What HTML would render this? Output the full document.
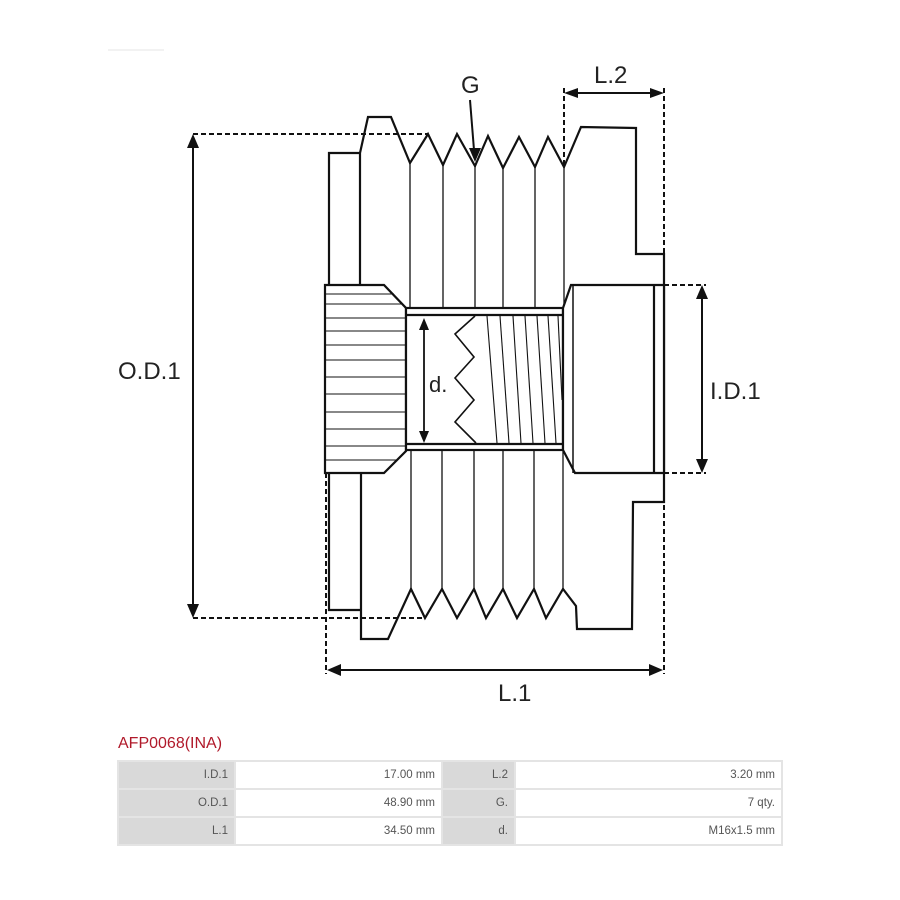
<!DOCTYPE html>
<html><head><meta charset="utf-8"><style>
html,body{margin:0;padding:0;background:#fff;width:900px;height:900px;overflow:hidden}
svg{position:absolute;left:0;top:0}
.t{position:absolute;left:118px;top:735px;font-family:"Liberation Sans",sans-serif;font-size:16px;color:#b0192a}
table{position:absolute;left:117px;top:760px;width:664px;table-layout:fixed;border-collapse:collapse;font-family:"Liberation Sans",sans-serif;font-size:11.5px;color:#555}
td{height:28px;border:2px solid #e4e4e4;text-align:right;padding:0 6px;box-sizing:border-box}
td.g{background:#d9d9d9}
</style></head><body>
<svg width="900" height="900" viewBox="0 0 900 900" fill="none" stroke="#111" stroke-width="2.2" stroke-linejoin="miter">
<line x1="108" y1="50" x2="164" y2="50" stroke="#e6e6e6" stroke-width="1"/>
<polyline points="329,284 329,153 360,153"/>
<polyline points="360,284 360,153 368,117 391,117 410,163 428,134 443,165 457,134 475,166 488,136 503,168 519,137 535,167 548,137 564,167 581,127 636,128 636,254 664,254 664,502 633,502 632,629 577,629 576,606 563,589 546,618 534,589 517,618 503,589 486,618 474,589 457,618 442,589 425,618 411,589 388,639 361,639 361,474"/>
<polyline points="329,474 329,610 361,610"/>
<g stroke-width="1.3">
<line x1="410" y1="163" x2="410" y2="308"/><line x1="443" y1="165" x2="443" y2="308"/><line x1="475" y1="166" x2="475" y2="308"/><line x1="503" y1="168" x2="503" y2="308"/><line x1="535" y1="167" x2="535" y2="308"/><line x1="564" y1="167" x2="564" y2="308"/>
<line x1="411" y1="450" x2="411" y2="589"/><line x1="442" y1="450" x2="442" y2="589"/><line x1="474" y1="450" x2="474" y2="589"/><line x1="503" y1="450" x2="503" y2="589"/><line x1="534" y1="450" x2="534" y2="589"/><line x1="563" y1="450" x2="563" y2="589"/>
</g>
<polygon points="325,285 384,285 406,308 406,451 384,473 325,473" fill="#fff"/>
<g stroke-width="1.1">
<line x1="326" y1="294" x2="394" y2="294"/><line x1="326" y1="304" x2="403" y2="304"/><line x1="326" y1="318" x2="406" y2="318"/><line x1="326" y1="331" x2="406" y2="331"/><line x1="326" y1="345" x2="406" y2="345"/><line x1="326" y1="360" x2="406" y2="360"/><line x1="326" y1="377" x2="406" y2="377"/><line x1="326" y1="394" x2="406" y2="394"/><line x1="326" y1="412" x2="406" y2="412"/><line x1="326" y1="429" x2="406" y2="429"/><line x1="326" y1="446" x2="406" y2="446"/><line x1="326" y1="460" x2="396" y2="460"/>
</g>
<rect x="406" y="308" width="157" height="142" fill="#fff"/>
<line x1="406" y1="315" x2="563" y2="315"/><line x1="406" y1="444" x2="563" y2="444"/>
<polygon points="563,308 571,285 664,285 664,473 575,473 563,450" fill="#fff"/>
<line x1="573" y1="285" x2="573" y2="473" stroke-width="1.5"/>
<line x1="654" y1="285" x2="654" y2="473"/>
<polyline points="475,316 455,334 474,357 455,378 474,400 455,422 476,443" stroke-width="1.6"/>
<g stroke-width="1.1">
<line x1="487" y1="316" x2="497" y2="443"/><line x1="500" y1="316" x2="509" y2="443"/><line x1="513" y1="316" x2="521" y2="443"/><line x1="525" y1="316" x2="533" y2="443"/><line x1="537" y1="316" x2="545" y2="443"/><line x1="548" y1="316" x2="556" y2="443"/><line x1="558" y1="316" x2="562" y2="400"/>
</g>
<line x1="424" y1="326" x2="424" y2="434" stroke-width="1.8"/>
<polygon points="424,318 419,330 429,330" fill="#111" stroke="none"/>
<polygon points="424,443 419,431 429,431" fill="#111" stroke="none"/>
<g stroke-dasharray="5,3" stroke-width="2">
<line x1="193" y1="134" x2="428" y2="134"/><line x1="193" y1="618" x2="425" y2="618"/>
<line x1="564" y1="88" x2="564" y2="167"/><line x1="664" y1="88" x2="664" y2="254"/>
<line x1="664" y1="285" x2="706" y2="285"/><line x1="664" y1="473" x2="706" y2="473"/>
<line x1="326" y1="473" x2="326" y2="674"/><line x1="664" y1="473" x2="664" y2="674"/>
</g>
<g stroke-width="2">
<line x1="193" y1="144" x2="193" y2="608"/>
<line x1="574" y1="93" x2="654" y2="93"/>
<line x1="702" y1="295" x2="702" y2="463"/>
<line x1="338" y1="670" x2="652" y2="670"/>
<line x1="470" y1="100" x2="474" y2="150"/>
</g>
<g fill="#111" stroke="none">
<polygon points="193,134 187,148 199,148"/><polygon points="193,618 187,604 199,604"/>
<polygon points="564,93 578,88 578,98"/><polygon points="664,93 650,88 650,98"/>
<polygon points="702,285 696,299 708,299"/><polygon points="702,473 696,459 708,459"/>
<polygon points="327,670 341,664 341,676"/><polygon points="663,670 649,664 649,676"/>
<polygon points="475,162 469,148 481,148"/>
</g>
<g fill="#222" stroke="none" font-family="Liberation Sans, sans-serif" font-size="24" font-weight="300">
<text x="118" y="379">O.D.1</text>
<text x="710" y="399">I.D.1</text>
<text x="498" y="701">L.1</text>
<text x="594" y="83">L.2</text>
<text x="461" y="93">G</text>
<text x="429" y="392" font-size="22">d.</text>
</g>
</svg>
<div class="t">AFP0068(INA)</div>
<table>
<colgroup><col style="width:117px"><col style="width:207px"><col style="width:73px"><col style="width:267px"></colgroup>
<tr><td class="g">I.D.1</td><td>17.00 mm</td><td class="g">L.2</td><td>3.20 mm</td></tr>
<tr><td class="g">O.D.1</td><td>48.90 mm</td><td class="g">G.</td><td>7 qty.</td></tr>
<tr><td class="g">L.1</td><td>34.50 mm</td><td class="g">d.</td><td>M16x1.5 mm</td></tr>
</table>
</body></html>
